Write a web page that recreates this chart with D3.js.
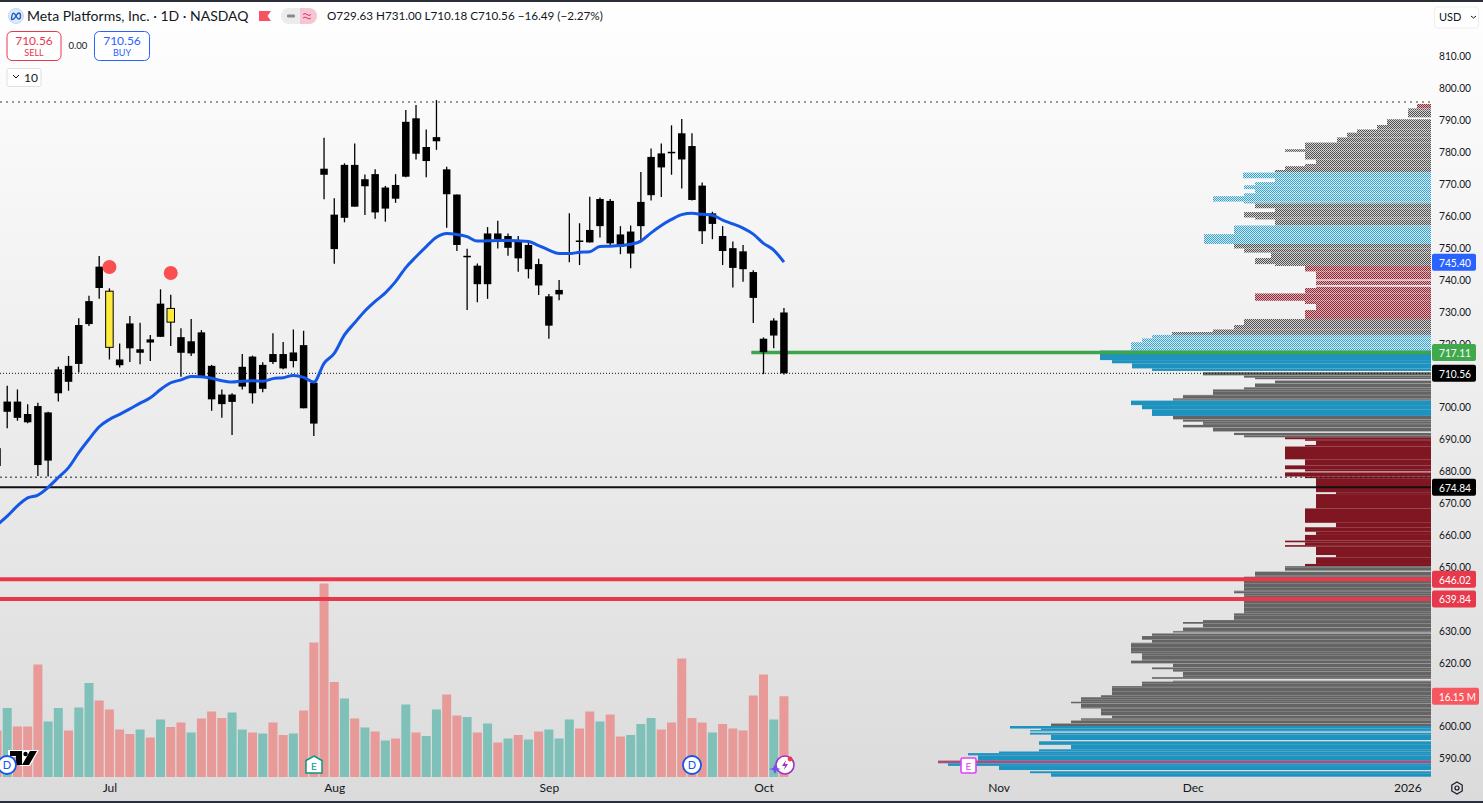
<!DOCTYPE html>
<html>
<head>
<meta charset="utf-8">
<script src="https://cdn.jsdelivr.net/npm/d3@7"></script>
<style>
  html, body { margin: 0; padding: 0; background: #fff; overflow: hidden; }
  svg { display: block; }
  text { font-family: Lato, "Noto Sans", sans-serif; fill: #131722; }
</style>
</head>
<body>
<div id="chart"></div>
<script>
// daily candles, Jun 2025 to 3 Oct 2025
const opens = [687.1,698.5,701.7,697.8,700.3,683.2,704.3,712.9,713.5,726.0,744.0,736.3,714.9,726.2,717.0,721.2,722.0,730.9,721.9,716.8,
  723.4,712.9,703.9,701.6,706.4,715.8,705.7,716.6,716.6,714.4,719.4,707.6,774.7,760.3,759.3,775.9,769.2,773.0,762.2,769.6,
  772.2,790.5,777.1,783.3,774.5,766.6,747.1,744.3,738.5,754.4,749.9,751.8,743.2,744.8,725.5,735.3,748.1,752.2,755.5,756.7,
  764.6,754.1,748.1,756.7,766.4,779.5,780.0,785.8,781.8,769.4,757.4,753.6,749.8,748.8,742.3,721.4,722.4,729.63];
const highs = [689.0,706.7,705.5,700.9,701.3,698.5,712.6,716.0,727.8,734.9,747.3,737.2,719.9,728.5,726.4,722.6,736.9,735.2,724.7,727.6,
  724.1,713.2,705.5,704.3,716.6,716.1,714.0,723.1,720.4,724.3,723.9,707.6,784.4,765.4,776.4,782.6,772.9,774.5,769.3,773.0,
  793.1,794.7,787.0,796.2,775.3,766.6,749.6,745.0,756.4,758.4,754.4,753.6,752.3,746.5,735.4,739.8,760.7,757.6,765.9,765.7,
  765.2,756.7,756.9,773.7,781.0,782.6,788.3,790.3,785.8,770.4,761.2,756.7,751.9,750.8,742.9,721.8,727.8,731.00];
const lows = [680.0,693.3,695.7,694.9,678.4,678.2,701.7,705.1,710.8,725.4,733.9,714.9,712.4,714.1,713.4,714.4,722.0,719.1,709.5,716.0,
  709.5,698.8,696.6,691.2,705.5,701.1,704.6,713.5,711.8,712.4,699.6,690.9,765.1,744.9,757.9,762.8,760.2,759.0,758.1,764.0,
  772.0,777.6,772.0,780.6,756.2,748.9,730.4,732.8,733.9,749.7,747.4,742.4,740.3,735.1,721.4,733.5,745.4,744.5,751.6,753.1,
  750.2,747.9,743.5,752.1,764.7,765.8,772.8,768.5,764.7,751.1,752.6,744.5,737.5,739.3,726.3,710.3,718.4,710.18];
const closes = [681.5,701.7,696.6,695.2,681.8,698.3,711.8,707.9,725.7,733.2,737.3,718.7,713.1,718.4,718.1,720.2,732.4,726.6,717.0,720.6,
  709.5,702.4,700.9,703.9,712.6,704.3,713.2,714.1,712.1,717.1,699.6,694.8,772.8,749.5,775.9,762.8,771.4,761.0,768.8,765.3,
  789.4,779.4,781.5,784.6,766.7,750.8,747.4,738.5,754.4,752.6,753.6,746.6,750.8,738.1,734.7,736.7,748.3,751.9,751.6,765.2,
  751.3,750.2,755.0,764.3,778.4,775.1,779.7,777.6,764.9,755.1,760.7,748.9,743.6,743.2,734.2,717.2,727.1,710.56];

// volume in millions
const volumes = [9.3,13.8,10.1,10.1,22.5,11.1,13.8,9.3,13.9,18.8,15.3,13.5,9.5,8.6,9.5,7.9,11.5,10.0,10.9,8.9,
  11.7,13.1,11.8,12.9,9.5,8.9,8.7,10.9,8.4,8.7,13.3,26.9,38.7,19.0,15.7,11.7,9.9,9.1,7.3,7.7,
  14.5,8.9,8.2,13.5,16.5,12.3,12.0,8.9,10.7,6.9,7.7,8.4,7.5,9.1,9.5,7.7,11.5,9.7,13.1,11.1,
  12.5,8.1,8.4,10.6,11.8,9.5,10.9,23.7,11.8,10.9,8.9,10.6,9.7,9.3,16.3,20.5,11.5,16.15];

// 20 period average
const ema = [663.0,665.8,669.0,671.5,672.4,674.8,677.9,681.0,685.7,689.9,693.8,696.1,697.7,699.4,701.2,702.9,705.5,707.6,708.5,709.6,
  709.5,709.0,708.2,707.8,708.1,708.2,708.1,708.9,709.2,709.9,709.3,707.8,713.7,716.8,722.6,726.4,730.1,733.1,735.8,739.3,
  743.7,747.1,750.3,753.2,754.4,754.1,753.4,752.0,752.1,752.2,752.2,752.1,751.9,750.6,749.2,748.1,748.1,748.5,748.7,750.3,
  750.4,750.6,751.0,752.0,754.6,756.9,758.8,760.3,760.7,760.4,760.1,758.6,757.4,756.1,754.2,751.3,749.2,745.4];

const yellowBars = [11, 17];
const dotBars = [11, 17];
const dotPrices = [743.9, 742.0];

// volume profile: top price of each band, its volume, its kind (g grey, b blue, r red, x empty)
const profileTops = [795.0,793.6,792.9,790.8,790.2,788.4,787.0,786.0,784.5,782.9,780.8,780.0,777.6,776.2,775.5,774.3,773.5,771.7,770.5,769.5,
  768.3,767.0,766.1,764.4,763.8,762.3,761.1,759.4,758.8,756.9,754.2,751.1,749.7,748.4,746.7,744.8,744.2,742.5,740.0,739.6,
  738.2,737.7,737.3,735.6,733.3,732.3,730.4,727.6,725.7,724.3,723.5,722.6,721.5,720.3,718.7,717.7,714.7,713.7,712.1,711.3,
  710.9,709.9,709.2,708.7,708.3,707.4,706.2,705.5,703.8,702.7,702.0,700.6,699.3,697.2,696.1,695.4,694.4,693.6,692.3,691.9,
  691.2,690.5,689.9,689.4,688.1,687.6,683.6,681.7,680.5,679.8,679.5,678.2,677.7,673.3,672.7,668.2,663.7,662.3,660.9,659.9,
  658.1,657.6,656.7,656.2,653.6,652.9,650.8,650.1,648.7,648.4,646.8,642.4,641.6,635.3,633.2,632.6,632.0,630.9,629.8,629.3,
  629.0,628.2,627.0,626.1,622.8,620.5,619.6,618.4,617.8,617.0,615.3,614.8,614.2,613.9,612.5,609.7,609.0,607.6,607.1,605.5,
  603.3,602.4,601.7,600.8,600.0,599.2,598.7,598.3,597.9,597.3,595.6,595.2,594.1,592.7,592.0,591.5,590.8,589.1,588.3,587.5,
  586.2,585.8,585.2,584.1];
const profileVols = [1.4,2.3,2.3,0,4.4,5.4,7.4,8.4,9.4,12.6,14.6,12.6,11.5,12.6,14.6,15.6,18.8,15.6,17.6,18.7,
  17.6,18.7,21.8,18.7,17.6,15.6,18.7,17.6,15.6,19.7,22.7,19.7,18.7,16,17.6,15.6,12.6,11.5,0,11.5,
  0,11.5,12.6,17.6,12.6,11.5,12.6,18.7,19.7,21.8,25.9,27.9,28.9,30,30,33.1,31.9,29.9,27.9,0,
  22.8,18.7,17.6,0,15.6,17.6,18.7,21.8,24.8,25.8,30,28.9,27.9,25.8,24.8,22.8,24.8,21.8,0,19.7,
  18.7,14.6,12.6,11.5,12.6,14.6,12.6,14.6,12.6,0,14.6,12.6,11.5,9.5,11.5,12.6,9.5,12.6,11.5,12.6,
  14.6,12.6,14.6,11.5,9.5,11.5,12.6,14.6,0,17.6,18.7,19.7,18.7,19.7,22.8,24.8,22.8,24.8,25.8,0,
  27.9,28.9,27.9,30,28.9,30,25.8,27.9,25.8,24.8,27.9,0,25.8,28.9,31.9,33,35,36,35,33,
  31.9,35,36,38,42.1,39,40.1,0,40.1,38,0,39.2,36,39.2,43.2,46.3,45.3,49.3,48.3,43.2,
  0,40.1,38,0];
const profileKinds = ("r g g x g g g g g g g g g g g g b b b b " +
  "b b b b g g g g g b b g g g g g r r x r " +
  "x r r r r r r g g g g b b b b b b b b x " +
  "g g g x g g g g g g b b b g g g g g x g " +
  "g r r r r r r r r x r r r r r r r r r r " +
  "r r r r r r r g x g g g g g g g g g g x " +
  "g g g g g g g g g g g x g g g g g g g g " +
  "g g g g b b b x b b x b b b b b b b b b " +
  "x b b x").split(" ");
const pocPrice = 588.8;

// levels across the chart
const highLevel = 795.6;
const lowLevel = 678.0;
const lastClose = 710.56;
const supportLevel = 674.84;
const redLevels = [646.02, 639.84];
const greenLevel = 717.11;
const greenStartBar = 74;

const tagPrices = [745.40, 717.11, 710.56, 674.84, 646.02, 639.84];
const priceTicks = [810,800,790,780,770,760,750,740,730,720,700,690,680,670,660,650,630,620,600,590];
const monthBars = [11, 33, 54, 75, 98, 117, 138];
const monthNames = ["Jul", "Aug", "Sep", "Oct", "Nov", "Dec", "2026"];

const width = 1483, height = 803;
const axisX = 1431;
const barGap = 10.22;

const svg = d3.select("#chart").append("svg")
  .attr("width", width)
  .attr("height", height);

const x = d3.scaleLinear().domain([0, 138]).range([-3, -3 + 138 * barGap]);
const y = d3.scaleLinear().domain([800, 590]).range([88, 88 + 210 * 3.19]);
const yVol = d3.scaleLinear().domain([0, 40]).range([777, 577]);
const profX = d3.scaleLinear().domain([0, 50]).range([0, 500]);

const defs = svg.append("defs");

const grad = defs.append("linearGradient").attr("id", "bg")
  .attr("x1", 0).attr("x2", 0).attr("y1", 0).attr("y2", 1);
grad.append("stop").attr("offset", "0%").attr("stop-color", "#ffffff");
grad.append("stop").attr("offset", "100%").attr("stop-color", "#dbdbdb");

// the top of the profile looks dithered in the screenshot
function dither(id, col, back) {
  const p = defs.append("pattern").attr("id", id)
    .attr("width", 2).attr("height", 2)
    .attr("patternUnits", "userSpaceOnUse");
  p.append("rect").attr("width", 2).attr("height", 2).attr("fill", back);
  p.append("rect").attr("width", 1).attr("height", 1).attr("fill", col);
  p.append("rect").attr("x", 1).attr("y", 1).attr("width", 1).attr("height", 1).attr("fill", col);
}
dither("ditherG", "#4f4f4f", "#d2d2d2");
dither("ditherB", "#3a9fc6", "#d2ecf5");
dither("ditherR", "#8f2a38", "#dcb0b5");

// lower grey rows have lighter lines between them
const stripe = defs.append("pattern").attr("id", "stripeG")
  .attr("width", 4).attr("height", 4)
  .attr("patternUnits", "userSpaceOnUse");
stripe.append("rect").attr("width", 4).attr("height", 4).attr("fill", "#646464");
stripe.append("rect").attr("y", 3).attr("width", 4).attr("height", 1).attr("fill", "#7e7e7e");

svg.append("rect").attr("width", width).attr("height", height).attr("fill", "url(#bg)");

// volume
svg.append("g").selectAll("rect")
  .data(volumes)
  .enter().append("rect")
  .attr("x", (d, i) => x(i) - 4.5)
  .attr("y", d => yVol(d))
  .attr("width", 9)
  .attr("height", d => yVol(0) - yVol(d))
  .attr("fill", (d, i) => closes[i] >= opens[i] ? "#7fc1b9" : "#e79a97");

// volume profile
function profileFill(i) {
  const k = profileKinds[i];
  if (profileTops[i] > 718) {
    return k == "b" ? "url(#ditherB)" : k == "r" ? "url(#ditherR)" : "url(#ditherG)";
  }
  return k == "b" ? "#1f93bf" : k == "r" ? "#7f1621" : "url(#stripeG)";
}

svg.append("g").selectAll("rect")
  .data(d3.range(profileTops.length - 1).filter(i => profileVols[i] > 0))
  .enter().append("rect")
  .attr("x", i => axisX - profX(profileVols[i]))
  .attr("y", i => y(profileTops[i]))
  .attr("width", i => profX(profileVols[i]))
  .attr("height", i => y(profileTops[i + 1]) - y(profileTops[i]))
  .attr("fill", i => profileFill(i));

svg.append("line")
  .attr("x1", axisX - profX(49.3)).attr("x2", axisX)
  .attr("y1", y(pocPrice)).attr("y2", y(pocPrice))
  .attr("stroke", "#d43a6e").attr("stroke-width", 2);

// horizontal levels
function hLine(price, col, w, dash, from) {
  svg.append("line")
    .attr("x1", from || 0).attr("x2", axisX)
    .attr("y1", y(price)).attr("y2", y(price))
    .attr("stroke", col).attr("stroke-width", w)
    .attr("stroke-dasharray", dash || null);
}
hLine(highLevel, "#7a7a7a", 1.5, "2 4");
hLine(lowLevel, "#222", 1, "2 3");
hLine(lastClose, "#111", 1, "1 2");
hLine(supportLevel, "#111", 2);
redLevels.forEach(p => hLine(p, "#e8384c", 4));
hLine(greenLevel, "#3ca54a", 3.5, null, x(greenStartBar) - 2);

// wicks and bodies
const candles = svg.append("g");
candles.selectAll("line")
  .data(highs)
  .enter().append("line")
  .attr("x1", (d, i) => x(i)).attr("x2", (d, i) => x(i))
  .attr("y1", d => y(d))
  .attr("y2", (d, i) => y(lows[i]))
  .attr("stroke", "#000").attr("stroke-width", 1.3);

candles.selectAll("rect")
  .data(opens)
  .enter().append("rect")
  .attr("x", (d, i) => x(i) - 3.75)
  .attr("y", (d, i) => y(Math.max(d, closes[i])))
  .attr("width", 7.5)
  .attr("height", (d, i) => Math.max(1.5, Math.abs(y(d) - y(closes[i]))))
  .attr("fill", (d, i) => yellowBars.includes(i) ? "#ffeb3b" : "#000")
  .attr("stroke", (d, i) => yellowBars.includes(i) ? "#000" : "none")
  .attr("stroke-width", 1);

// average line
const emaLine = d3.line()
  .x((d, i) => x(i))
  .y(d => y(d))
  .curve(d3.curveMonotoneX);

svg.append("path")
  .attr("d", emaLine(ema))
  .attr("fill", "none")
  .attr("stroke", "#1558e6")
  .attr("stroke-width", 3);

svg.append("g").selectAll("circle")
  .data(dotBars)
  .enter().append("circle")
  .attr("cx", d => x(d))
  .attr("cy", (d, i) => y(dotPrices[i]))
  .attr("r", 7)
  .attr("fill", "#fb4f4f");

// axes
const yAxis = svg.append("g")
  .attr("transform", `translate(1439,0)`)
  .call(d3.axisRight(y).tickValues(priceTicks).tickFormat(d3.format(".2f")).tickSize(0).tickPadding(0));
yAxis.select(".domain").remove();
yAxis.selectAll("text")
  .attr("font-size", 12)
  .attr("textLength", 32)
  .attr("lengthAdjust", "spacingAndGlyphs")
  .style("font-family", "Lato, sans-serif")
  .style("fill", "#131722");

const xAxis = svg.append("g")
  .attr("transform", `translate(0,777)`)
  .call(d3.axisBottom(x).tickValues(monthBars).tickFormat((d, i) => monthNames[i]).tickSize(0).tickPadding(6));
xAxis.select(".domain").remove();
xAxis.selectAll("text").attr("font-size", 12).style("font-family", "Lato, sans-serif").style("fill", "#131722");

// price tags on the axis
const tagColors = ["#2962ff", "#3fa94b", "#000", "#000", "#e8384c", "#e8384c"];
const tags = svg.append("g").selectAll("g")
  .data(tagPrices)
  .enter().append("g")
  .attr("transform", d => `translate(1432,${y(d)})`);
tags.append("rect")
  .attr("y", -8.5).attr("width", 44).attr("height", 17).attr("rx", 2)
  .attr("fill", (d, i) => tagColors[i]);
tags.append("text")
  .attr("x", 7).attr("y", 4.5)
  .attr("font-size", 12)
  .attr("textLength", 32)
  .attr("lengthAdjust", "spacingAndGlyphs")
  .style("fill", "#fff")
  .text(d => d3.format(".2f")(d));

const volTag = svg.append("g").attr("transform", `translate(1432,${yVol(volumes[77])})`);
volTag.append("rect").attr("y", -8.5).attr("width", 47).attr("height", 17).attr("rx", 2).attr("fill", "#f7575f");
volTag.append("text").attr("x", 7).attr("y", 4.5).attr("font-size", 12)
  .attr("textLength", 37)
  .attr("lengthAdjust", "spacingAndGlyphs")
  .style("fill", "#fff")
  .text(d3.format(".2f")(volumes[77]) + " M");

// header
const head = svg.append("g");
head.append("circle").attr("cx", 16).attr("cy", 16).attr("r", 7.5)
  .attr("fill", "#dcebf7").attr("stroke", "#c5d9ea");
head.append("path").attr("d", "M11.5,19 C12,12 14,12 16,16 C18,20 20.5,20 20.5,16 C20.5,12 18,12 16,16 C14,20 11.5,20 11.5,19")
  .attr("fill", "none").attr("stroke", "#1f5fc4").attr("stroke-width", 1.4);
head.append("text").attr("x", 27).attr("y", 21).attr("font-size", 14).text("Meta Platforms, Inc. · 1D · NASDAQ");
head.append("path").attr("d", "M259,11 H271 L267.5,16 L271,21 H259 Z").attr("fill", "#f7525f");
head.append("rect").attr("x", 281).attr("y", 8).attr("width", 36).attr("height", 16).attr("rx", 8).attr("fill", "#ececec");
head.append("path").attr("d", "M300,8 H309 A8,8 0 0 1 309,24 H300 Z").attr("fill", "#f7c6d3");
head.append("rect").attr("x", 287).attr("y", 14.5).attr("width", 8).attr("height", 3).attr("rx", 1).attr("fill", "#8a8a8a");
head.append("path").attr("d", "M303,14.5 q2,-2 4,0 t4,0 M303,18 q2,-2 4,0 t4,0").attr("fill", "none").attr("stroke", "#d6336c").attr("stroke-width", 1);
head.append("text").attr("x", 327).attr("y", 20).attr("font-size", 11.7).text("O729.63  H731.00  L710.18  C710.56  −16.49 (−2.27%)");

// sell / buy
head.append("rect").attr("x", 7).attr("y", 31.5).attr("width", 54).attr("height", 29).attr("rx", 5)
  .attr("fill", "#fff").attr("stroke", "#e8384c");
head.append("text").attr("x", 34).attr("y", 45).attr("text-anchor", "middle").attr("font-size", 12).style("fill", "#e8384c").text("710.56");
head.append("text").attr("x", 34).attr("y", 56).attr("text-anchor", "middle").attr("font-size", 9).style("fill", "#e8384c").text("SELL");
head.append("text").attr("x", 78).attr("y", 49).attr("text-anchor", "middle").attr("font-size", 9.5).text("0.00");
head.append("rect").attr("x", 94.5).attr("y", 31.5).attr("width", 55).attr("height", 29).attr("rx", 5)
  .attr("fill", "#fff").attr("stroke", "#2962ff");
head.append("text").attr("x", 122).attr("y", 45).attr("text-anchor", "middle").attr("font-size", 12).style("fill", "#2962ff").text("710.56");
head.append("text").attr("x", 122).attr("y", 56).attr("text-anchor", "middle").attr("font-size", 9).style("fill", "#2962ff").text("BUY");
head.append("rect").attr("x", 7).attr("y", 68.5).attr("width", 34).attr("height", 18).attr("rx", 2)
  .attr("fill", "#fff").attr("stroke", "#e0e0e0");
head.append("path").attr("d", "M13,75 L16,78 L19,75").attr("fill", "none").attr("stroke", "#131722");
head.append("text").attr("x", 24).attr("y", 81.5).attr("font-size", 12).text("10");

// currency button
head.append("rect").attr("x", 1434.5).attr("y", 7).attr("width", 44).attr("height", 21).attr("rx", 3)
  .attr("fill", "#fff").attr("stroke", "#eeeeee");
head.append("text").attr("x", 1439).attr("y", 21).attr("font-size", 11).text("USD");
head.append("path").attr("d", "M1471,16 L1473.5,18 L1476,16").attr("fill", "none").attr("stroke", "#131722");

// frame edges of the screenshot
svg.append("rect").attr("width", width).attr("height", 2).attr("fill", "#2a2e39");
svg.append("rect").attr("y", 801).attr("width", width).attr("height", 2).attr("fill", "#2a2e39");

// event badges along the bottom
function roundBadge(cx, letter) {
  svg.append("circle").attr("cx", cx).attr("cy", 765).attr("r", 9)
    .attr("fill", "#fff").attr("stroke", "#1557e6").attr("stroke-width", 1.8);
  svg.append("text").attr("x", cx).attr("y", 769).attr("text-anchor", "middle")
    .attr("font-size", 11).style("fill", "#1557e6").text(letter);
}

// tv logo
svg.append("path").attr("d", "M8,750 H39 L30,766 H20 V757 H8 Z").attr("fill", "#fff");
svg.append("path").attr("d", "M10,751 H22 V765 H16 V756 H10 Z M30,751 H37 L29,765 H22 Z").attr("fill", "#000");
svg.append("circle").attr("cx", 25.5).attr("cy", 754).attr("r", 2.2).attr("fill", "#000");
roundBadge(7, "D");
roundBadge(692, "D");

svg.append("path").attr("d", "M314,756 L322,760.5 V773 H306 V760.5 Z")
  .attr("fill", "#fff").attr("stroke", "#089981").attr("stroke-width", 1.5);
svg.append("text").attr("x", 314).attr("y", 770).attr("text-anchor", "middle").attr("font-size", 10).style("fill", "#089981").text("E");

svg.append("circle").attr("cx", 785).attr("cy", 765).attr("r", 9)
  .attr("fill", "#fff").attr("stroke", "#a430c8").attr("stroke-width", 1.6);
svg.append("path").attr("d", "M786,760 L782,766 H785 L784,770 L788,764 H785 Z").attr("fill", "#a430c8");
svg.append("path").attr("d", "M775,764 L777,768 L781,769 L777,770 L775,774 L773,770 L769,769 L773,768 Z").attr("fill", "#7a4df0");
svg.append("circle").attr("cx", 790).attr("cy", 759).attr("r", 2.4).attr("fill", "#f23645");

svg.append("rect").attr("x", 961).attr("y", 758).attr("width", 15).attr("height", 15).attr("rx", 1.5)
  .attr("fill", "#fff").attr("stroke", "#e040fb").attr("stroke-width", 1.6);
svg.append("text").attr("x", 968.5).attr("y", 769.5).attr("text-anchor", "middle").attr("font-size", 10).style("fill", "#e040fb").text("E");

// settings gear
svg.append("path").attr("d", "M1457,782 L1462.2,785 V791 L1457,794 L1451.8,791 V785 Z")
  .attr("fill", "none").attr("stroke", "#131722").attr("stroke-width", 1.2);
svg.append("circle").attr("cx", 1457).attr("cy", 788).attr("r", 2).attr("fill", "none").attr("stroke", "#131722").attr("stroke-width", 1.2);
</script>
</body>
</html>
